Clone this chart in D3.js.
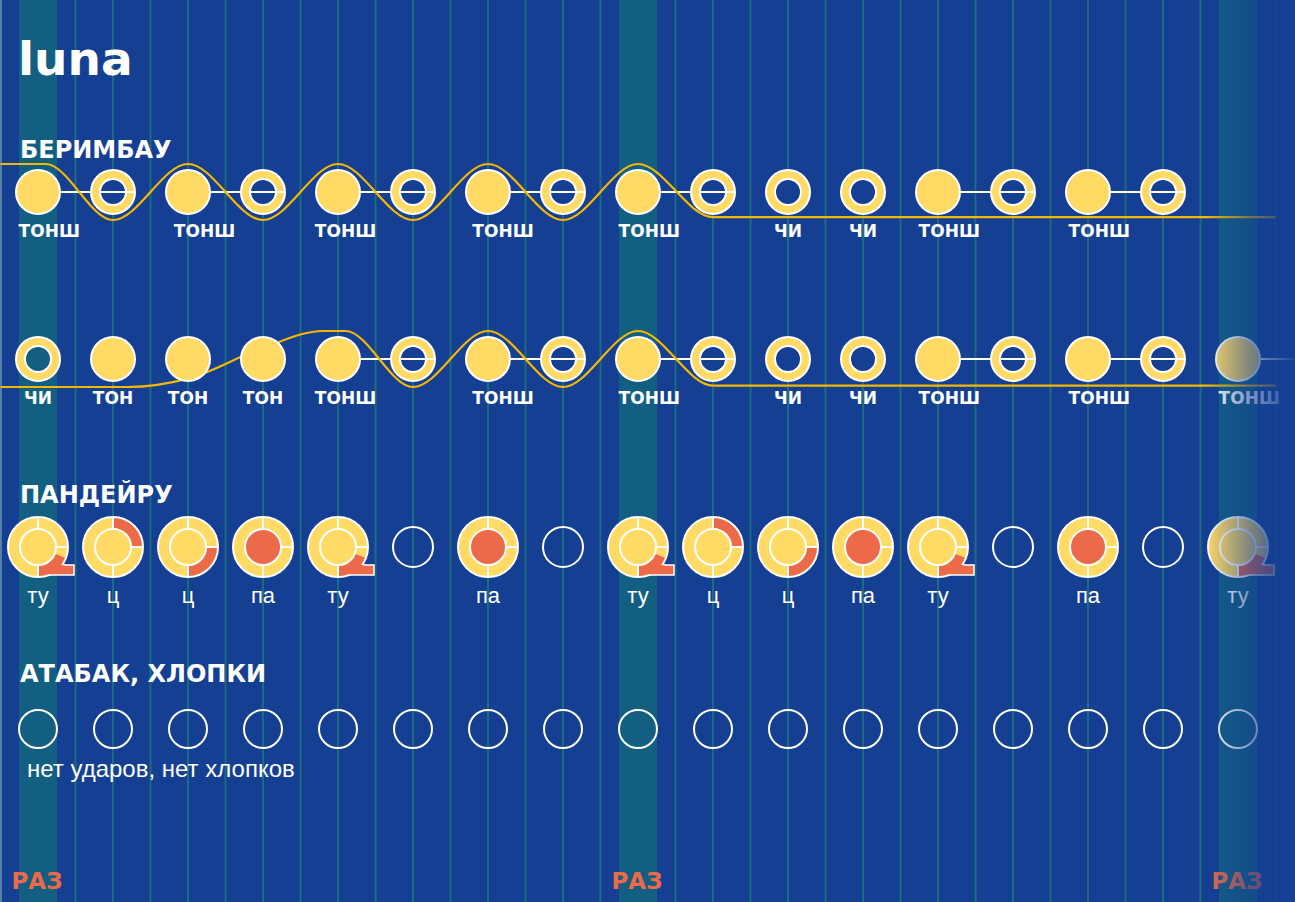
<!DOCTYPE html>
<html><head><meta charset="utf-8">
<script src="https://cdn.jsdelivr.net/npm/d3@7"></script>
<style>body{margin:0;background:#143f93}svg{display:block}</style>
</head><body>
<svg id="c" width="1295" height="902"></svg>
<script>
// beats 0..16, one cycle = 8 beats
var beats = d3.range(17);
var razBeats = [0, 8, 16];
// berimbau line 1: F = filled (тонш/тон), R = ring (чи or open)
var berim1 = ["F","R","F","R","F","R","F","R","F","R","R","R","F","R","F","R"];
var berim1Labels = [[0.15,"ТОНШ"],[2.22,"ТОНШ"],[4.1,"ТОНШ"],[6.2,"ТОНШ"],[8.15,"ТОНШ"],[10,"ЧИ"],[11,"ЧИ"],[12.15,"ТОНШ"],[14.15,"ТОНШ"]];
var berim1Curve = [[-0.5,-1],[0.1,-1],[1,1],[2,-1],[3,1],[4,-1],[5,1],[6,-1],[7,1],[8,-1],[9,0.9],[16.5,0.9]];
var berim2 = ["R","F","F","F","F","R","F","R","F","R","R","R","F","R","F","R","F"];
var berim2Labels = [[0,"ЧИ"],[1,"ТОН"],[2,"ТОН"],[3,"ТОН"],[4.1,"ТОНШ"],[6.2,"ТОНШ"],[8.15,"ТОНШ"],[10,"ЧИ"],[11,"ЧИ"],[12.15,"ТОНШ"],[14.15,"ТОНШ"],[16.15,"ТОНШ"]];
var berim2Curve = [[-0.5,1],[1.2,1],[2,0.7],[3,-0.4],[3.8,-1],[4.1,-1],[5,1],[6,-1],[7,1],[8,-1],[9,0.95],[16.5,0.95]];
// pandeiro: tu, c1 (top-right), c2 (bottom-right), pa, 0 = none
var pand = ["tu","c1","c2","pa","tu","0","pa","0","tu","c1","c2","pa","tu","0","pa","0","tu"];
var pandLabels = {tu:"ту", c1:"ц", c2:"ц", pa:"па"};
var atabak = d3.range(17);

var W = 1295, H = 902;
var YEL = "#ffdb66", ORA = "#ec6a4a", BG = "#143f93";
var svg = d3.select("#c");
var x = d3.scaleLinear().domain([0, 16]).range([38, 1238]);

svg.append("rect").attr("width", W).attr("height", H).attr("fill", BG);
// half-beat grid
svg.selectAll("line.grid").data(d3.range(-0.5, 17, 0.5)).enter().append("line")
  .attr("x1", d => x(d)).attr("x2", d => x(d)).attr("y1", 0).attr("y2", H)
  .attr("stroke", "#1e6a80").attr("stroke-width", 2);
svg.selectAll("rect.raz").data(razBeats).enter().append("rect")
  .attr("x", d => x(d) - 19).attr("width", 38).attr("y", 0).attr("height", H)
  .attr("fill", "#135f82");
svg.append("line").attr("x1",1).attr("x2",1).attr("y1",0).attr("y2",H).attr("stroke","#8aa0d0");

function txt(t, px, py, size, weight, col, anchor) {
  return svg.append("text").attr("x", px).attr("y", py).text(t)
    .attr("font-family", weight === "bold" ? "DejaVu Sans, sans-serif" : "Liberation Sans, Arial, sans-serif")
    .attr("font-size", size).attr("font-weight", weight).attr("fill", col)
    .attr("text-anchor", anchor || "start");
}
txt("luna", 18, 75, 47, "bold", "#fff");
txt("БЕРИМБАУ", 20, 158, 24, "bold", "#fff");
txt("ПАНДЕЙРУ", 20, 503, 24, "bold", "#fff");
txt("АТАБАК, ХЛОПКИ", 20, 682, 24, "bold", "#fff");
razBeats.forEach(b => txt("РАЗ", x(b) - 1, 889, 23, "bold", ORA, "middle"));

function berimRow(types, labels, curve, cy) {
  var g = svg.append("g");
  var amp = 28;
  var line = d3.line().x(d => x(d[0])).y(d => cy + d[1] * amp).curve(d3.curveMonotoneX);
  // connectors between filled and following ring
  types.forEach(function (t, i) {
    if (t === "F" && types[i + 1] === "R" && i + 1 < 16) {
      g.append("line").attr("x1", x(i)).attr("x2", x(i + 1) + 22)
        .attr("y1", cy).attr("y2", cy).attr("stroke", "#fff").attr("stroke-width", 2);
    }
  });
  if (types.length > 16) {
    g.append("line").attr("x1", x(16)).attr("x2", W).attr("y1", cy).attr("y2", cy)
      .attr("stroke", "#fff").attr("stroke-width", 2);
  }
  g.append("path").datum(curve).attr("d", line).attr("fill", "none")
    .attr("stroke", "#f5b800").attr("stroke-width", 2.2);
  g.selectAll("circle.o").data(types).enter().append("circle")
    .attr("cx", (d, i) => x(i)).attr("cy", cy).attr("r", 22)
    .attr("fill", YEL).attr("stroke", "#fff").attr("stroke-width", 2);
  g.selectAll("circle.i").data(types.map((t, i) => [t, i]).filter(d => d[0] === "R")).enter().append("circle")
    .attr("cx", d => x(d[1])).attr("cy", cy).attr("r", 13)
    .attr("fill", d => razBeats.indexOf(d[1]) >= 0 ? "#135f82" : BG)
    .attr("stroke", "#fff").attr("stroke-width", 2);
  types.forEach(function (t, i) {
    if (t === "R" && types[i - 1] === "F") {
      g.append("line").attr("x1", x(i) - 13).attr("x2", x(i) + 22)
        .attr("y1", cy).attr("y2", cy).attr("stroke", "#fff").attr("stroke-width", 2);
    }
  });
  labels.forEach(l => txt(l[1], x(l[0]), cy + 45, 17, "bold", "#fff", "middle"));
}
berimRow(berim1, berim1Labels, berim1Curve, 192);
berimRow(berim2, berim2Labels, berim2Curve, 359);

// pandeiro
var py = 547;
var arc = d3.arc();
pand.forEach(function (t, i) {
  var cx = x(i), g = svg.append("g").attr("transform", "translate(" + cx + "," + py + ")");
  if (t === "0") {
    g.append("circle").attr("r", 20).attr("fill", "none").attr("stroke", "#fff").attr("stroke-width", 2);
  } else {
    g.append("circle").attr("r", 30).attr("fill", YEL).attr("stroke", "#fff").attr("stroke-width", 2);
    var seg = null;
    if (t === "tu") seg = [Math.PI * 0.62, Math.PI];
    if (t === "c1") seg = [0, Math.PI / 2];
    if (t === "c2") seg = [Math.PI / 2, Math.PI];
    if (t === "tu") {
      g.append("path").attr("d", "M18,10 Q22,18 28,18 L36,18 L36,28 L8,28 Z").attr("fill", ORA)
        .attr("stroke", "#fff").attr("stroke-width", 1.5);
    }
    if (seg) {
      g.append("path").attr("d", arc({innerRadius: 19, outerRadius: 29, startAngle: seg[0], endAngle: seg[1]}))
        .attr("fill", ORA);
    }
    [[0, -19, 0, -30], [0, 19, 0, 30], [19, 0, 30, 0]].forEach(function (s) {
      g.append("line").attr("x1", s[0]).attr("y1", s[1]).attr("x2", s[2]).attr("y2", s[3])
        .attr("stroke", "#fff").attr("stroke-width", 2);
    });
    g.append("circle").attr("r", 18).attr("fill", t === "pa" ? ORA : YEL)
      .attr("stroke", "#fff").attr("stroke-width", 2);
    txt(pandLabels[t], cx, py + 56, 22, "normal", "#fff", "middle");
  }
});

// atabaque
svg.selectAll("circle.at").data(atabak).enter().append("circle")
  .attr("cx", d => x(d)).attr("cy", 729).attr("r", 19)
  .attr("fill", d => razBeats.indexOf(d) >= 0 ? "#135f82" : "none")
  .attr("stroke", "#fff").attr("stroke-width", 2);
txt("нет ударов, нет хлопков", 27, 777, 24, "normal", "#fff");

// fade on the right edge
var grad = svg.append("defs").append("linearGradient").attr("id", "fade");
grad.append("stop").attr("offset", "0").attr("stop-color", BG).attr("stop-opacity", 0);
grad.append("stop").attr("offset", "0.5").attr("stop-color", BG).attr("stop-opacity", 0.55);
grad.append("stop").attr("offset", "1").attr("stop-color", BG).attr("stop-opacity", 0.95);
svg.append("rect").attr("x", 1205).attr("y", 0).attr("width", 90).attr("height", H)
  .attr("fill", "url(#fade)");
</script>
</body></html>
